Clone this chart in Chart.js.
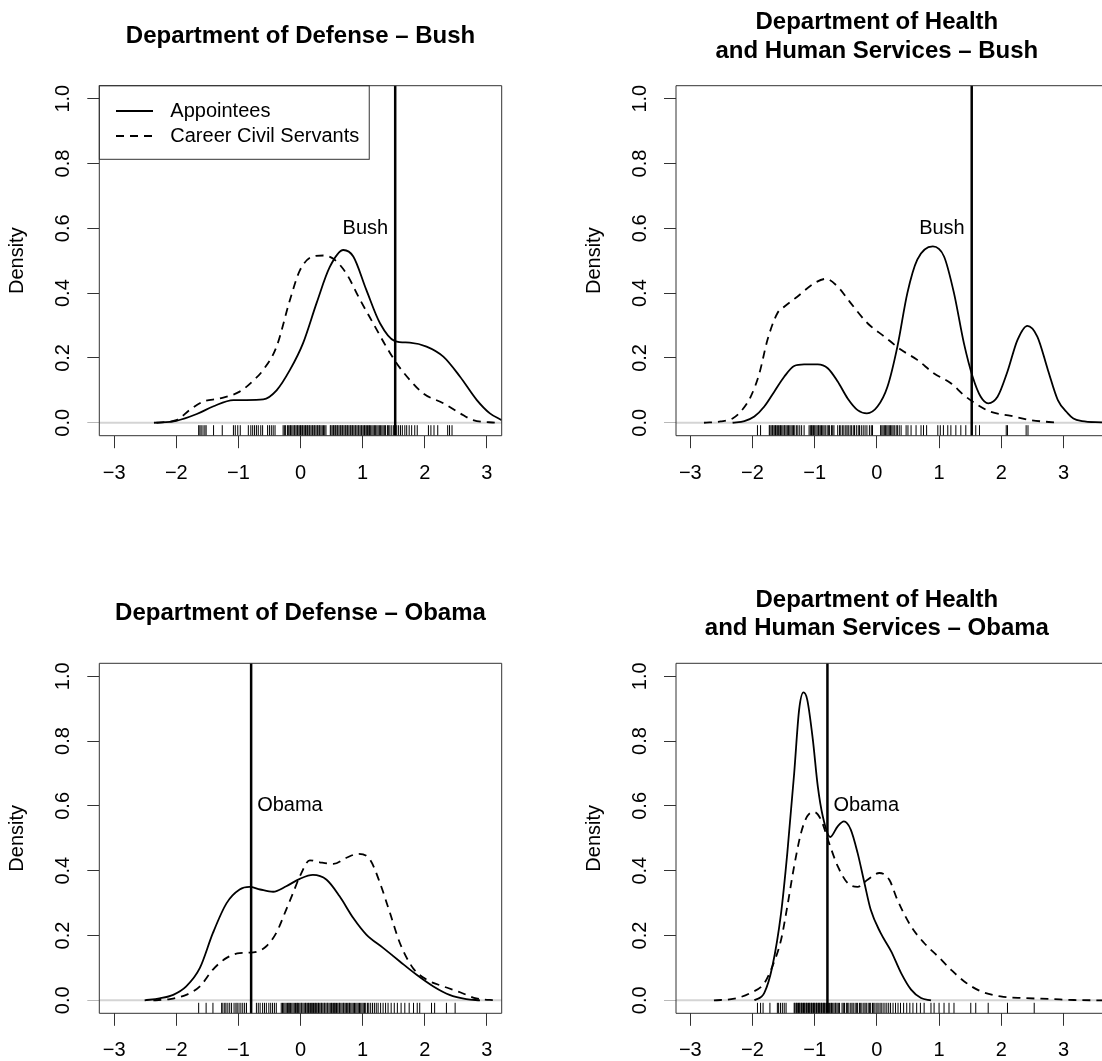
<!DOCTYPE html>
<html>
<head>
<meta charset="utf-8">
<script src="https://cdn.jsdelivr.net/npm/chart.js@4.4.0/dist/chart.umd.min.js"></script>
<style>
  html, body { margin: 0; padding: 0; background: #fff; overflow: hidden; }
  .panel { position: absolute; }
</style>
</head>
<body>
<div class="panel" style="left:0;top:0;width:551px;height:530px"><canvas id="p1"></canvas></div>
<div class="panel" style="left:551px;top:0;width:551px;height:530px"><canvas id="p2"></canvas></div>
<div class="panel" style="left:0;top:530px;width:551px;height:531px"><canvas id="p3"></canvas></div>
<div class="panel" style="left:551px;top:530px;width:551px;height:531px"><canvas id="p4"></canvas></div>
<script>
// axis ticks (same on every panel)
const xTicks = [-3, -2, -1, 0, 1, 2, 3];
const yTicks = [0, 0.2, 0.4, 0.6, 0.8, 1.0];
const seriesNames = ['Appointees', 'Career Civil Servants'];

// Department of Defense - Bush
const dodBushAppointees = [[-2.36,0],[-2.0,0.006],[-1.67,0.027],[-1.41,0.05],[-1.08,0.07],[-0.87,0.07],[-0.6,0.072],[-0.385,0.10],[-0.17,0.163],[0.04,0.245],[0.26,0.37],[0.47,0.48],[0.69,0.533],[0.85,0.513],[1.06,0.41],[1.28,0.307],[1.52,0.252],[1.76,0.247],[2.03,0.235],[2.30,0.204],[2.57,0.142],[2.84,0.07],[3.05,0.029],[3.24,0.008]];
const dodBushCareer = [[-2.32,0],[-2.0,0.008],[-1.78,0.04],[-1.57,0.065],[-1.30,0.075],[-0.98,0.096],[-0.76,0.13],[-0.6,0.163],[-0.385,0.235],[-0.17,0.379],[-0.01,0.47],[0.2,0.513],[0.37,0.516],[0.53,0.506],[0.74,0.46],[0.96,0.379],[1.17,0.307],[1.38,0.235],[1.55,0.183],[1.76,0.132],[1.98,0.09],[2.3,0.06],[2.57,0.029],[2.78,0.008],[3.16,0]];
const dodBushRug = [-1.64,-1.62,-1.60,-1.57,-1.54,-1.52,-1.40,-1.26,-1.08,-1.05,-1.01,-0.97,-0.84,-0.80,-0.77,-0.74,-0.71,-0.68,-0.64,-0.61,-0.53,-0.50,-0.47,-0.44,-0.41,
    -0.28,-0.26,-0.24,-0.21,-0.19,-0.17,-0.16,-0.14,-0.12,-0.10,-0.09,-0.07,-0.05,-0.04,-0.02,0.00,0.01,0.03,0.04,0.06,0.08,0.09,0.11,0.12,0.14,0.15,0.17,0.19,0.20,0.22,0.23,0.25,0.27,0.28,0.30,0.31,0.33,0.35,0.37,0.39,0.41,
    0.48,0.49,0.51,0.53,0.54,0.56,0.57,0.59,0.60,0.62,0.64,0.65,0.67,0.68,0.70,0.72,0.73,0.75,0.76,0.78,0.80,0.81,0.83,0.84,0.86,0.88,0.89,0.91,0.93,0.94,0.96,0.98,0.99,1.01,1.03,1.04,1.06,1.08,1.10,1.11,1.13,1.15,1.17,1.19,1.21,1.23,1.25,1.27,1.29,1.31,1.33,1.35,1.37,1.40,1.42,1.44,1.47,1.50,1.53,1.55,
    1.58,1.61,1.64,1.68,1.71,1.75,1.79,1.84,1.88,2.06,2.10,2.15,2.21,2.37,2.40,2.44];

// Department of Health and Human Services - Bush
const hhsBushAppointees = [[-2.32,0],[-2.13,0.005],[-1.97,0.019],[-1.81,0.05],[-1.65,0.096],[-1.49,0.142],[-1.33,0.175],[-1.17,0.18],[-0.95,0.18],[-0.79,0.168],[-0.63,0.127],[-0.47,0.075],[-0.31,0.039],[-0.16,0.029],[0.01,0.05],[0.17,0.111],[0.33,0.235],[0.49,0.40],[0.65,0.503],[0.90,0.544],[1.08,0.513],[1.24,0.40],[1.40,0.245],[1.54,0.142],[1.67,0.08],[1.79,0.06],[1.94,0.08],[2.10,0.158],[2.26,0.255],[2.42,0.299],[2.58,0.266],[2.75,0.163],[2.91,0.07],[3.07,0.029],[3.16,0.013],[3.30,0.005],[3.62,0.001]];
const hhsBushCareer = [[-2.78,0],[-2.51,0.004],[-2.32,0.013],[-2.19,0.034],[-2.03,0.08],[-1.89,0.152],[-1.76,0.255],[-1.60,0.338],[-1.49,0.358],[-1.28,0.389],[-1.01,0.43],[-0.82,0.444],[-0.63,0.42],[-0.42,0.369],[-0.15,0.307],[0.12,0.266],[0.39,0.225],[0.65,0.194],[0.92,0.152],[1.19,0.122],[1.40,0.085],[1.62,0.055],[1.83,0.034],[2.16,0.021],[2.48,0.008],[2.91,0]];
const hhsBushRug = [-1.92,-1.87,-1.73,-1.72,-1.70,-1.68,-1.67,-1.65,-1.63,-1.62,-1.60,-1.58,-1.56,-1.55,-1.53,-1.51,-1.49,-1.48,-1.46,-1.44,-1.42,-1.40,-1.38,-1.36,-1.34,-1.32,-1.29,-1.27,-1.24,-1.21,-1.17,
    -1.09,-1.07,-1.05,-1.04,-1.02,-1.00,-0.98,-0.96,-0.94,-0.93,-0.91,-0.89,-0.87,-0.85,-0.83,-0.80,-0.78,-0.76,-0.73,-0.71,-0.69,
    -0.63,-0.60,-0.58,-0.55,-0.53,-0.50,-0.48,-0.46,-0.43,-0.41,-0.38,-0.36,-0.33,-0.30,-0.28,-0.25,-0.22,-0.19,-0.16,-0.12,-0.09,-0.07,
    0.06,0.08,0.10,0.12,0.14,0.16,0.18,0.20,0.22,0.24,0.26,0.28,0.31,0.33,0.36,0.39,0.47,0.50,0.55,0.63,0.71,0.75,0.80,
    0.98,1.02,1.07,1.14,1.19,1.27,1.35,1.43,1.59,1.65,2.08,2.10,2.40,2.43];

// Department of Defense - Obama
const dodObamaAppointees = [[-2.51,0],[-2.27,0.006],[-2.05,0.017],[-1.84,0.043],[-1.62,0.10],[-1.41,0.208],[-1.19,0.30],[-0.98,0.342],[-0.82,0.35],[-0.65,0.342],[-0.44,0.335],[-0.23,0.352],[-0.01,0.375],[0.2,0.387],[0.42,0.372],[0.63,0.321],[0.85,0.254],[1.06,0.203],[1.33,0.162],[1.60,0.12],[1.87,0.079],[2.14,0.043],[2.40,0.017],[2.67,0.004],[2.89,0]];
const dodObamaCareer = [[-2.37,0],[-2.10,0.004],[-1.84,0.017],[-1.62,0.043],[-1.41,0.095],[-1.19,0.131],[-0.98,0.146],[-0.76,0.148],[-0.55,0.167],[-0.39,0.208],[-0.23,0.28],[-0.12,0.331],[-0.01,0.383],[0.15,0.432],[0.31,0.426],[0.53,0.421],[0.74,0.44],[0.93,0.452],[1.12,0.434],[1.28,0.362],[1.44,0.27],[1.60,0.177],[1.81,0.10],[2.03,0.064],[2.30,0.043],[2.57,0.025],[2.83,0.006],[3.16,0]];
const dodObamaRug = [-1.64,-1.52,-1.41,-1.27,-1.25,-1.22,-1.20,-1.17,-1.14,-1.11,-1.07,-1.04,-1.02,-0.99,-0.96,-0.93,-0.90,-0.87,
    -0.71,-0.68,-0.65,-0.61,-0.58,-0.55,-0.51,-0.48,-0.45,-0.42,-0.39,
    -0.31,-0.29,-0.27,-0.25,-0.23,-0.21,-0.19,-0.18,-0.16,-0.14,-0.12,-0.10,-0.08,-0.06,-0.05,-0.03,-0.01,0.01,0.02,0.04,0.06,0.08,0.09,0.11,0.13,0.14,0.16,0.18,0.19,0.21,0.23,0.24,0.26,0.28,0.29,0.31,0.33,0.34,0.36,0.38,0.39,0.41,0.43,0.44,0.46,0.48,0.50,0.51,0.53,0.55,0.56,0.58,0.60,0.62,0.63,0.65,0.67,0.69,0.70,0.72,0.74,0.76,0.78,0.79,0.81,0.83,0.85,0.87,0.89,0.91,0.93,0.95,0.97,0.99,1.01,1.03,1.05,1.08,1.10,1.13,1.16,1.19,1.22,1.25,1.29,1.33,1.37,1.41,1.46,1.51,1.56,1.62,1.68,1.75,1.82,1.88,1.92,
    2.11,2.16,2.35,2.49];

// Department of Health and Human Services - Obama
const hhsObamaAppointees = [[-1.97,0],[-1.81,0.023],[-1.68,0.105],[-1.54,0.27],[-1.44,0.455],[-1.33,0.70],[-1.25,0.897],[-1.18,0.95],[-1.12,0.928],[-1.03,0.805],[-0.95,0.66],[-0.87,0.568],[-0.75,0.504],[-0.63,0.537],[-0.53,0.552],[-0.42,0.527],[-0.31,0.455],[-0.20,0.362],[-0.10,0.28],[0.06,0.208],[0.23,0.151],[0.39,0.084],[0.55,0.033],[0.71,0.007],[0.87,0]];
const hhsObamaCareer = [[-2.62,0],[-2.29,0.005],[-2.03,0.023],[-1.81,0.053],[-1.68,0.105],[-1.54,0.187],[-1.44,0.29],[-1.33,0.414],[-1.22,0.516],[-1.12,0.568],[-1.01,0.581],[-0.90,0.558],[-0.77,0.486],[-0.63,0.414],[-0.47,0.362],[-0.31,0.35],[-0.15,0.372],[0.04,0.393],[0.20,0.372],[0.33,0.31],[0.55,0.228],[0.76,0.177],[0.98,0.136],[1.19,0.095],[1.40,0.059],[1.67,0.028],[1.99,0.012],[2.37,0.007],[2.80,0.004],[3.17,0.001],[3.62,0]];
const hhsObamaRug = [-1.92,-1.87,-1.83,-1.72,-1.60,-1.58,-1.55,-1.52,-1.49,-1.46,
    -1.33,-1.32,-1.30,-1.29,-1.28,-1.26,-1.25,-1.24,-1.22,-1.21,-1.20,-1.18,-1.17,-1.16,-1.14,-1.13,-1.12,-1.10,-1.09,-1.08,-1.06,-1.05,-1.04,-1.02,-1.01,-1.00,-0.98,-0.97,-0.96,-0.94,-0.93,-0.92,-0.90,-0.89,-0.88,-0.86,-0.85,-0.84,-0.82,-0.81,-0.79,-0.78,-0.76,-0.74,-0.73,-0.71,-0.69,-0.67,-0.66,-0.64,-0.62,-0.60,
    -0.56,-0.54,-0.52,-0.49,-0.47,-0.45,-0.42,-0.40,-0.38,-0.35,-0.33,-0.31,-0.28,-0.26,-0.24,-0.21,-0.19,-0.17,-0.14,-0.12,-0.10,-0.07,-0.05,-0.03,0.00,0.02,0.05,0.07,0.10,0.13,0.16,0.19,0.22,0.26,0.30,0.34,0.38,0.43,0.48,0.53,0.58,0.64,0.70,0.76,
    0.87,0.92,1.00,1.08,1.16,1.24,1.51,1.59,1.79,2.10,2.53];

// President's ideal point and its label
const bushPoint = 1.525;
const obamaPoint = -0.795;

const FONT = '"Liberation Sans", Arial, Helvetica, sans-serif';
const FONT_SIZE = 20;

const rBasePlugin = {
    id: 'rBase',
    beforeDatasetsDraw(chart) {
        const { ctx, chartArea: a, scales: { y } } = chart;
        // grey zero line like plot.density
        ctx.save();
        ctx.strokeStyle = '#d4d4d4';
        ctx.lineWidth = 2;
        const y0 = y.getPixelForValue(0);
        ctx.beginPath();
        ctx.moveTo(a.left, y0);
        ctx.lineTo(a.right, y0);
        ctx.stroke();
        ctx.restore();
    },
    afterDatasetsDraw(chart, args, opts) {
        const { ctx, chartArea: a, scales: { x, y } } = chart;
        ctx.save();

        // rug
        ctx.strokeStyle = '#000';
        ctx.lineWidth = 1;
        ctx.beginPath();
        opts.rug.forEach(v => {
            const px = x.getPixelForValue(v);
            ctx.moveTo(px, a.bottom);
            ctx.lineTo(px, a.bottom - 10.5);
        });
        ctx.stroke();

        // vertical line for the president
        const vx = x.getPixelForValue(opts.vline);
        ctx.lineWidth = 2.5;
        ctx.beginPath();
        ctx.moveTo(vx, a.top);
        ctx.lineTo(vx, a.bottom);
        ctx.stroke();

        ctx.fillStyle = '#000';
        ctx.font = FONT_SIZE + 'px ' + FONT;
        ctx.textBaseline = 'middle';
        if (opts.labelSide === 'left') {
            ctx.textAlign = 'right';
            ctx.fillText(opts.label, vx - 7, y.getPixelForValue(0.6));
        } else {
            ctx.textAlign = 'left';
            ctx.fillText(opts.label, vx + 6, y.getPixelForValue(0.6));
        }

        // box
        ctx.strokeStyle = '#333';
        ctx.lineWidth = 1;
        ctx.beginPath();
        ctx.moveTo(a.left, a.top);
        ctx.lineTo(a.right + (opts.boxRight ? 0 : 2), a.top);
        if (opts.boxRight) ctx.lineTo(a.right, a.bottom);
        else ctx.moveTo(a.right + 2, a.bottom);
        ctx.lineTo(a.left, a.bottom);
        ctx.lineTo(a.left, a.top);
        ctx.stroke();

        // y tick labels, rotated like R
        ctx.fillStyle = '#000';
        ctx.textAlign = 'center';
        ctx.textBaseline = 'middle';
        y.ticks.forEach(t => {
            ctx.save();
            ctx.translate(a.left - 35.5, y.getPixelForValue(t.value));
            ctx.rotate(-Math.PI / 2);
            ctx.fillText(t.value.toFixed(1), 0, 0);
            ctx.restore();
        });
        ctx.save();
        ctx.translate(a.left - 81.5, (a.top + a.bottom) / 2);
        ctx.rotate(-Math.PI / 2);
        ctx.fillText('Density', 0, 0);
        ctx.restore();

        // title
        ctx.font = 'bold 24px ' + FONT;
        const tx = x.getPixelForValue(0);
        if (opts.title.length === 1) {
            ctx.fillText(opts.title[0], tx, a.top - 49.5);
        } else {
            ctx.fillText(opts.title[0], tx, a.top - 63);
            ctx.fillText(opts.title[1], tx, a.top - 34.5);
        }

        // legend
        if (opts.legend) {
            ctx.font = FONT_SIZE + 'px ' + FONT;
            ctx.textAlign = 'left';
            const w = Math.max(...seriesNames.map(s => ctx.measureText(s).width));
            ctx.strokeStyle = '#333';
            ctx.lineWidth = 1;
            ctx.strokeRect(a.left, a.top, 71 + w + 10, 73.6);
            ctx.strokeStyle = '#000';
            ctx.lineWidth = 1.8;
            seriesNames.forEach((s, i) => {
                const ly = a.top + 25.3 + i * 25;
                ctx.setLineDash(i === 0 ? [] : [8, 6]);
                ctx.beginPath();
                ctx.moveTo(a.left + 16.7, ly);
                ctx.lineTo(a.left + 53.7, ly);
                ctx.stroke();
                ctx.fillText(s, a.left + 71, ly);
            });
            ctx.setLineDash([]);
        }
        ctx.restore();
    }
};

function makePanel(id, p) {
    const canvasH = document.getElementById(id).parentNode.clientHeight;
    const boxH = 350;
    return new Chart(document.getElementById(id), {
        type: 'scatter',
        data: {
            datasets: [
                {
                    label: seriesNames[0],
                    data: p.appointees.map(d => ({ x: d[0], y: d[1] })),
                    showLine: true,
                    borderColor: '#000',
                    borderWidth: 1.8,
                    pointRadius: 0,
                    cubicInterpolationMode: 'monotone'
                },
                {
                    label: seriesNames[1],
                    data: p.career.map(d => ({ x: d[0], y: d[1] })),
                    showLine: true,
                    borderColor: '#000',
                    borderWidth: 1.8,
                    borderDash: [8, 6],
                    pointRadius: 0,
                    cubicInterpolationMode: 'monotone'
                }
            ]
        },
        options: {
            responsive: true,
            maintainAspectRatio: false,
            animation: false,
            events: [],
            layout: {
                padding: { left: 0, top: p.boxTop, right: p.padRight, bottom: 0 }
            },
            plugins: {
                legend: { display: false },
                tooltip: { enabled: false },
                rBase: {
                    rug: p.rug,
                    vline: p.vline,
                    label: p.label,
                    labelSide: p.labelSide,
                    title: p.title,
                    legend: p.legend,
                    boxRight: p.boxRight
                }
            },
            scales: {
                x: {
                    type: 'linear',
                    min: p.xMin,
                    max: p.xMax,
                    afterFit: s => { s.height = canvasH - p.boxTop - boxH; },
                    afterBuildTicks: s => { s.ticks = xTicks.map(v => ({ value: v })); },
                    border: { display: false },
                    grid: {
                        drawOnChartArea: false,
                        drawTicks: true,
                        tickLength: 12.5,
                        color: '#333',
                        lineWidth: 1
                    },
                    ticks: {
                        color: '#000',
                        padding: 13,
                        maxRotation: 0,
                        font: { family: FONT, size: FONT_SIZE },
                        callback: v => (v < 0 ? '\u2212' + Math.abs(v) : String(v))
                    }
                },
                y: {
                    type: 'linear',
                    min: -0.04,
                    max: 1.04,
                    afterFit: s => { s.width = p.boxLeft; },
                    afterBuildTicks: s => { s.ticks = yTicks.map(v => ({ value: v })); },
                    border: { display: false },
                    grid: {
                        drawOnChartArea: false,
                        drawTicks: true,
                        tickLength: 12,
                        color: c => (c.tick && c.tick.value === 0 ? '#b8b8b8' : '#333'),
                        lineWidth: 1
                    },
                    ticks: { display: false }
                }
            }
        },
        plugins: [rBasePlugin]
    });
}

makePanel('p1', {
    appointees: dodBushAppointees, career: dodBushCareer, rug: dodBushRug,
    vline: bushPoint, label: 'Bush', labelSide: 'left',
    title: ['Department of Defense \u2013 Bush'], legend: true,
    boxLeft: 99.3, boxTop: 85.7, padRight: 49.3, xMin: -3.24, xMax: 3.24, boxRight: true
});
makePanel('p2', {
    appointees: hhsBushAppointees, career: hhsBushCareer, rug: hhsBushRug,
    vline: bushPoint, label: 'Bush', labelSide: 'left',
    title: ['Department of Health', 'and Human Services \u2013 Bush'], legend: false,
    boxLeft: 125, boxTop: 85.7, padRight: 0, xMin: -3.23, xMax: 3.62, boxRight: false
});
makePanel('p3', {
    appointees: dodObamaAppointees, career: dodObamaCareer, rug: dodObamaRug,
    vline: obamaPoint, label: 'Obama', labelSide: 'right',
    title: ['Department of Defense \u2013 Obama'], legend: false,
    boxLeft: 99.3, boxTop: 133.3, padRight: 49.3, xMin: -3.24, xMax: 3.24, boxRight: true
});
makePanel('p4', {
    appointees: hhsObamaAppointees, career: hhsObamaCareer, rug: hhsObamaRug,
    vline: obamaPoint, label: 'Obama', labelSide: 'right',
    title: ['Department of Health', 'and Human Services \u2013 Obama'], legend: false,
    boxLeft: 125, boxTop: 133.3, padRight: 0, xMin: -3.23, xMax: 3.62, boxRight: false
});
</script>
</body>
</html>
